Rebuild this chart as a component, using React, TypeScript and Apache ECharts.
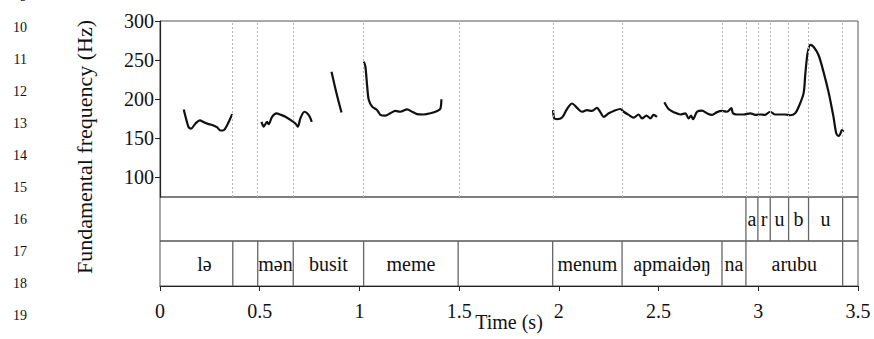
import React, { useEffect, useRef } from "react";
import * as echarts from "echarts";

// Pitch track (time in s, F0 in Hz), one array per voiced stretch
const f0Seg1: [number, number][] = [
  [0.119, 187], [0.133, 173], [0.144, 164], [0.156, 162.5], [0.178, 169], [0.2, 173],
  [0.22, 170.5], [0.24, 168.5], [0.262, 167], [0.287, 164], [0.303, 160], [0.32, 160.5],
  [0.337, 167], [0.35, 174], [0.362, 181],
];
const f0Seg2: [number, number][] = [
  [0.509, 171], [0.52, 165], [0.537, 171], [0.545, 168], [0.562, 177.5], [0.584, 182],
  [0.607, 180], [0.629, 177.5], [0.654, 173.5], [0.679, 169], [0.691, 165], [0.704, 175.5],
  [0.724, 184], [0.738, 182], [0.751, 177.5], [0.761, 171],
];
const f0Seg3: [number, number][] = [
  [0.86, 235], [0.885, 207.5], [0.91, 183],
];
const f0Seg4: [number, number][] = [
  [1.022, 248], [1.03, 241.5], [1.039, 216], [1.047, 199], [1.064, 190.5], [1.089, 186],
  [1.105, 180], [1.13, 179], [1.155, 182], [1.18, 185], [1.205, 184], [1.239, 187],
  [1.264, 184], [1.289, 181], [1.322, 180.5], [1.356, 182], [1.39, 185], [1.406, 188],
  [1.411, 200],
];
const f0Seg5: [number, number][] = [
  [1.971, 186], [1.977, 175.5], [1.991, 174.5], [2.016, 176.5], [2.041, 187.5], [2.066, 194.5],
  [2.091, 189], [2.116, 184], [2.141, 186], [2.166, 185], [2.191, 189], [2.208, 183.5],
  [2.225, 177.5], [2.25, 182], [2.275, 185], [2.308, 187.5], [2.325, 184], [2.35, 180],
  [2.375, 176.5], [2.4, 180.5], [2.417, 175.5], [2.439, 179], [2.459, 175.5], [2.475, 180],
  [2.492, 177.5],
];
const f0Seg6: [number, number][] = [
  [2.529, 196], [2.55, 187.5], [2.576, 183.5], [2.609, 180.5], [2.634, 182], [2.651, 175.5],
  [2.663, 179], [2.673, 174.5], [2.693, 184], [2.718, 185.5], [2.743, 182], [2.768, 180],
  [2.793, 183.5], [2.818, 185], [2.843, 184], [2.865, 188.5], [2.873, 182], [2.893, 180.5],
  [2.926, 180.5], [2.96, 182], [2.985, 180], [3.01, 180.5], [3.033, 180], [3.06, 184],
  [3.085, 180.5], [3.11, 180.5], [3.135, 180.5], [3.16, 179.5], [3.185, 182], [3.202, 190],
  [3.227, 207.5], [3.236, 233], [3.247, 258.5], [3.261, 269.5], [3.277, 267], [3.302, 256.5],
  [3.327, 235], [3.352, 209.5], [3.377, 177.5], [3.391, 156.5], [3.403, 153], [3.411, 155.5],
  [3.419, 160.5], [3.428, 158.5],
];
const f0Segments = [f0Seg1, f0Seg2, f0Seg3, f0Seg4, f0Seg5, f0Seg6];

// Annotation tiers: [start, end, label]
const phoneIntervals: [number, number, string][] = [
  [2.938, 2.998, "a"], [2.998, 3.06, "r"], [3.06, 3.152, "u"], [3.152, 3.252, "b"], [3.252, 3.423, "u"],
];
const phoneBoundaries = [2.938, 2.998, 3.06, 3.152, 3.252, 3.423];
const wordIntervals: [number, number, string][] = [
  [0.08, 0.365, "lə"], [0.49, 0.668, "mən"], [0.668, 1.021, "busit"], [1.021, 1.495, "meme"],
  [1.969, 2.317, "menum"], [2.317, 2.818, "apmaidəŋ"], [2.818, 2.938, "na"], [2.938, 3.423, "arubu"],
];
const wordBoundaries = [0.365, 0.49, 0.668, 1.021, 1.495, 1.969, 2.317, 2.818, 2.938, 3.423];

const f0Ticks = [100, 150, 200, 250, 300];
const lineNumbers = ["9", "10", "11", "12", "13", "14", "15", "16", "17", "18", "19"];

const SERIF = "Liberation Serif";

export default function App() {
  const ref = useRef<HTMLDivElement>(null);

  useEffect(() => {
    if (!ref.current) return;
    const chart = echarts.init(ref.current, undefined, { renderer: "svg" });

    const allBoundaries = Array.from(new Set([...wordBoundaries, ...phoneBoundaries])).sort((a, b) => a - b);

    const tierText = (gridIdx: number, intervals: [number, number, string][]) => ({
      type: "custom",
      xAxisIndex: gridIdx,
      yAxisIndex: gridIdx,
      silent: true,
      data: intervals.map((d) => [d[0], d[1]]),
      renderItem: (params: any, api: any) => {
        const s = api.value(0);
        const e = api.value(1);
        const label = intervals[params.dataIndex][2];
        const p = api.coord([(s + e) / 2, 0.5]);
        return {
          type: "text",
          x: p[0],
          y: p[1],
          style: {
            text: label,
            align: "center",
            verticalAlign: "middle",
            fontFamily: SERIF,
            fontSize: 20,
            fill: "#111",
          },
        };
      },
    });

    const tierLines = (gridIdx: number, bounds: number[]) => ({
      type: "custom",
      xAxisIndex: gridIdx,
      yAxisIndex: gridIdx,
      silent: true,
      data: bounds.map((t) => [t, 0]),
      renderItem: (_params: any, api: any) => {
        const t = api.value(0);
        const a = api.coord([t, 0]);
        const b = api.coord([t, 1]);
        return {
          type: "line",
          shape: { x1: a[0], y1: a[1], x2: b[0], y2: b[1] },
          style: { stroke: "#666", lineWidth: 1.3 },
        };
      },
    });

    const gridBase = { left: 160, right: 16, show: true, borderColor: "#555", borderWidth: 1 };

    chart.setOption({
      animation: false,
      backgroundColor: "#fff",
      textStyle: { fontFamily: SERIF },
      grid: [
        { ...gridBase, top: 21, height: 176 },
        { ...gridBase, top: 197, height: 44 },
        { ...gridBase, top: 241, height: 45 },
      ],
      xAxis: [
        { type: "value", gridIndex: 0, min: 0, max: 3.5, show: false },
        { type: "value", gridIndex: 1, min: 0, max: 3.5, show: false },
        {
          type: "value",
          gridIndex: 2,
          min: 0,
          max: 3.5,
          interval: 0.5,
          name: "Time (s)",
          nameLocation: "middle",
          nameGap: 26,
          nameMoveOverlap: false,
          nameTextStyle: { fontFamily: SERIF, fontSize: 20, color: "#111" },
          axisLine: { show: true, lineStyle: { color: "#222", width: 1.2 } },
          axisTick: { show: true, length: 5, lineStyle: { color: "#222" } },
          axisLabel: {
            margin: 15,
            fontFamily: SERIF,
            fontSize: 20,
            color: "#111",
            formatter: (v: number) => String(v),
          },
          splitLine: { show: false },
        },
      ],
      yAxis: [
        {
          type: "value",
          gridIndex: 0,
          min: 75,
          max: 300,
          axisLine: { show: true, lineStyle: { color: "#222", width: 1.2 } },
          axisTick: { show: true, length: 5, customValues: f0Ticks, lineStyle: { color: "#222" } },
          axisLabel: { margin: 6, fontFamily: SERIF, fontSize: 20, color: "#111", customValues: f0Ticks },
          splitLine: { show: false },
        },
        { type: "value", gridIndex: 1, min: 0, max: 1, show: false },
        { type: "value", gridIndex: 2, min: 0, max: 1, show: false },
      ],
      graphic: [
        {
          type: "text",
          x: 84,
          y: 147,
          rotation: Math.PI / 2,
          style: {
            text: "Fundamental frequency (Hz)",
            align: "center",
            verticalAlign: "middle",
            fontFamily: SERIF,
            fontSize: 22,
            fill: "#111",
          },
        },
        ...lineNumbers.map((n, i) => ({
          type: "text",
          x: 27,
          y: -4 + i * 31.9,
          style: {
            text: n,
            align: "right",
            verticalAlign: "middle",
            fontFamily: SERIF,
            fontSize: 14,
            fill: "#111",
          },
        })),
      ],
      series: [
        {
          type: "line",
          xAxisIndex: 0,
          yAxisIndex: 0,
          data: [],
          silent: true,
          markLine: {
            silent: true,
            symbol: ["none", "none"],
            label: { show: false },
            lineStyle: { type: [2, 2], color: "#b5b5b5", width: 1 },
            data: allBoundaries.map((t) => ({ xAxis: t })),
          },
        },
        ...f0Segments.map((seg) => ({
          type: "line",
          xAxisIndex: 0,
          yAxisIndex: 0,
          data: seg,
          showSymbol: false,
          smooth: 0.3,
          silent: true,
          lineStyle: { color: "#111", width: 2.2 },
        })),
        tierLines(1, phoneBoundaries),
        tierText(1, phoneIntervals),
        tierLines(2, wordBoundaries),
        tierText(2, wordIntervals),
      ],
    });

    return () => chart.dispose();
  }, []);

  return (
    <div
      ref={ref}
      style={{ position: "absolute", left: 0, top: 0, width: 874, height: 339 }}
    />
  );
}
